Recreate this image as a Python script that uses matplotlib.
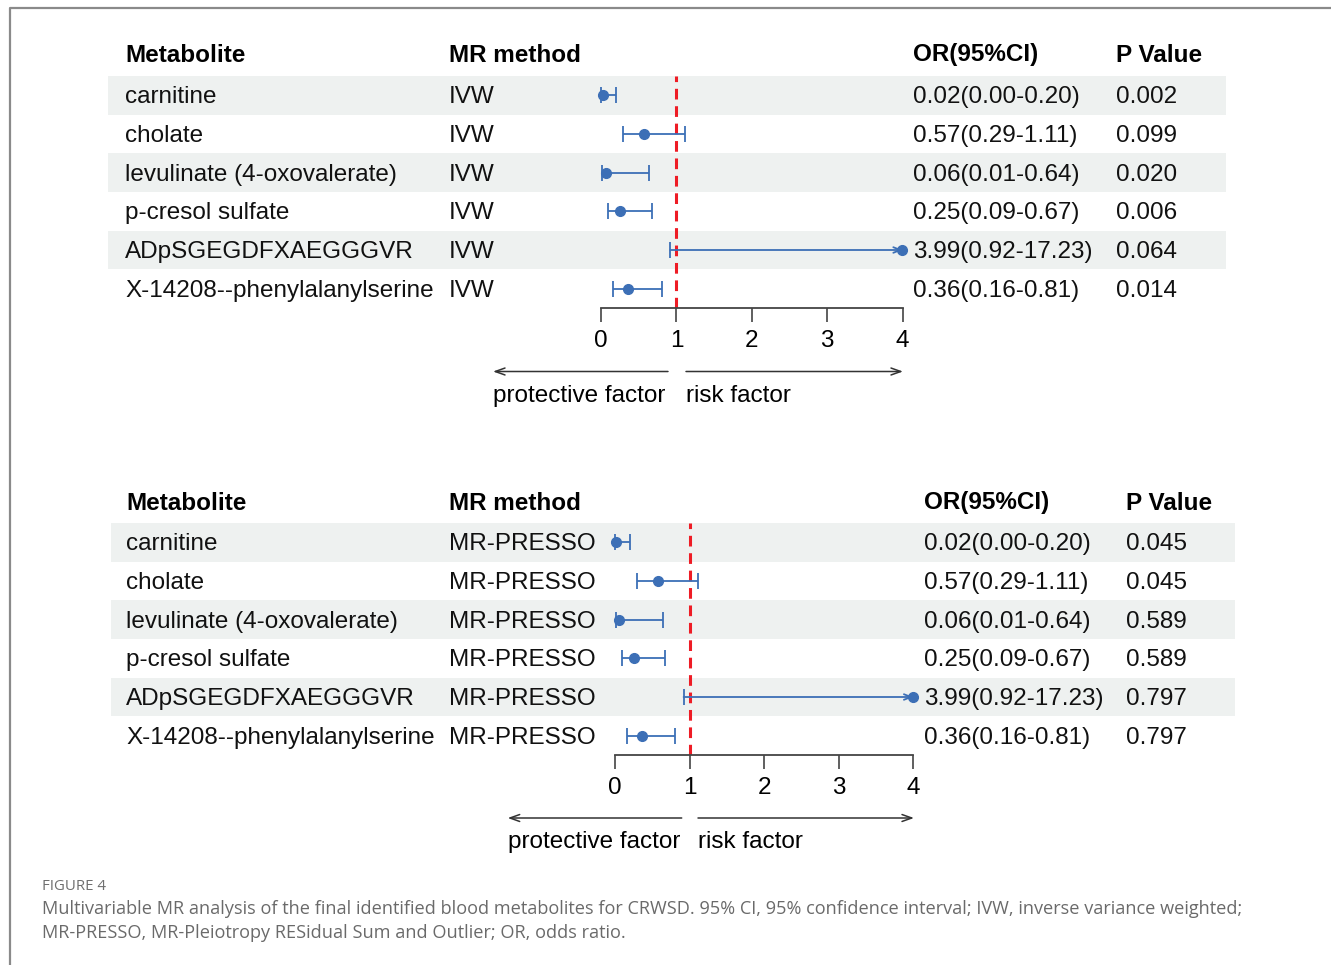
import matplotlib
matplotlib.use("Agg")
import matplotlib.pyplot as plt
import numpy as np

# ---------------- data ----------------
metabolites = ['carnitine', 'cholate', 'levulinate (4-oxovalerate)', 'p-cresol sulfate',
               'ADpSGEGDFXAEGGGVR', 'X-14208--phenylalanylserine']
or_vals = [0.02, 0.57, 0.06, 0.25, 3.99, 0.36]
ci_low = [0.00, 0.29, 0.01, 0.09, 0.92, 0.16]
ci_high = [0.20, 1.11, 0.64, 0.67, 17.23, 0.81]
p_ivw = ['0.002', '0.099', '0.020', '0.006', '0.064', '0.014']
p_presso = ['0.045', '0.045', '0.589', '0.589', '0.797', '0.797']
methods = ['IVW', 'MR-PRESSO']
headers = ['Metabolite', 'MR method', 'OR(95%CI)', 'P Value']
xticks = [0, 1, 2, 3, 4]
caption_title = 'FIGURE 4'
caption_lines = ['Multivariable MR analysis of the final identified blood metabolites for CRWSD. 95% CI, 95% confidence interval; IVW, inverse variance weighted;',
                 'MR-PRESSO, MR-Pleiotropy RESidual Sum and Outlier; OR, odds ratio.']

W, H = 1331, 965
FONT = 'Liberation Sans'
FS = 17.5
BLUE = '#3C6FB6'
BAND = '#EEF1F0'
DY = 2  # vertical text offset in px

fig = plt.figure(figsize=(W / 100, H / 100), dpi=100)
bg = fig.add_axes([0, 0, 1, 1])
bg.set_xlim(0, W)
bg.set_ylim(H, 0)
bg.axis('off')

# frame
bg.plot([10, 10, W], [H, 8, 8], color='#8a8a8a', lw=1.6, solid_capstyle='butt')

panels = [
    dict(method=methods[0], pvals=p_ivw, header_y=53, band_x=(108, 1226),
         cols=(125, 449, 913, 1116), ax_x=(601, 902.7), ax_y=(76, 308),
         arr_y=371.5, left_arr=(668, 493), right_arr=(686, 903), lab_y=394),
    dict(method=methods[1], pvals=p_presso, header_y=501, band_x=(111, 1235),
         cols=(126, 449, 924, 1126), ax_x=(615, 913.3), ax_y=(523, 755),
         arr_y=818, left_arr=(681.7, 507.7), right_arr=(698, 914), lab_y=840),
]

n = len(metabolites)
for p in panels:
    top, bot = p['ax_y']
    pitch = (bot - top) / n
    # header
    for c, h in zip(p['cols'], headers):
        bg.text(c, p['header_y'] + DY, h, fontsize=FS, fontweight='bold', family=FONT,
                va='center', ha='left', color='black')
    # rows
    for i in range(n):
        yc = top + pitch * (i + 0.5) + DY
        if i % 2 == 0:
            bg.fill_between([p['band_x'][0], p['band_x'][1]], top + pitch * i,
                            top + pitch * (i + 1), color=BAND, lw=0, zorder=0)
        ortxt = f"{or_vals[i]:.2f}({ci_low[i]:.2f}-{ci_high[i]:.2f})"
        for c, t in zip(p['cols'], [metabolites[i], p['method'], ortxt, p['pvals'][i]]):
            bg.text(c, yc, t, fontsize=FS, family=FONT, va='center', ha='left',
                    color='#111111')
    # direction arrows
    y = p['arr_y']
    for (x0, x1) in [p['left_arr'], p['right_arr']]:
        bg.annotate('', xy=(x1, y), xytext=(x0, y),
                    arrowprops=dict(arrowstyle='->,head_length=0.7,head_width=0.25',
                                    color='#333333', lw=1.1, shrinkA=0, shrinkB=0))
    bg.text(p['left_arr'][1], p['lab_y'] + DY, 'protective factor', fontsize=FS, family=FONT,
            va='center', ha='left')
    bg.text(p['right_arr'][0], p['lab_y'] + DY, 'risk factor', fontsize=FS, family=FONT,
            va='center', ha='left')

    # forest axes
    x0, x1 = p['ax_x']
    ax = fig.add_axes([x0 / W, 1 - bot / H, (x1 - x0) / W, (bot - top) / H])
    ax.patch.set_alpha(0)
    ax.set_xlim(xticks[0], xticks[-1])
    ax.set_ylim(n - 0.5, -0.5)
    for s in ['top', 'right', 'left']:
        ax.spines[s].set_visible(False)
    ax.spines['bottom'].set_color('#444444')
    ax.spines['bottom'].set_linewidth(1.3)
    ax.set_yticks([])
    ax.set_xticks(xticks)
    ax.set_xticklabels([str(t) for t in xticks], fontsize=FS, family=FONT)
    ax.tick_params(axis='x', direction='out', length=10, width=1.2, color='#444444', pad=5.5)
    ax.axvline(1, color='#EE1C25', lw=2.2, ls=(0, (3.5, 2.2)), zorder=1)
    for i in range(n):
        lo, hi, est = ci_low[i], ci_high[i], or_vals[i]
        if hi <= xticks[-1]:
            ax.errorbar(est, i, xerr=[[est - lo], [hi - est]], fmt='o', color=BLUE,
                        ms=7, elinewidth=1.3, capsize=6, capthick=1.3, clip_on=False, zorder=3)
        else:
            ax.annotate('', xy=(xticks[-1], i), xytext=(lo, i),
                        arrowprops=dict(arrowstyle='->,head_length=0.5,head_width=0.2',
                                        color=BLUE, lw=1.3, shrinkA=0, shrinkB=0),
                        annotation_clip=False, zorder=3)
            ax.plot([lo], [i], marker='|', ms=12, mew=1.3, color=BLUE, clip_on=False)
            ax.plot([min(est, xticks[-1])], [i], 'o', ms=7, color=BLUE, clip_on=False, zorder=4)

# caption
bg.text(42, 886, caption_title, fontsize=10.8, family='Open Sans', color='#6f6f6f',
        va='center', ha='left')
for k, line in enumerate(caption_lines):
    bg.text(42, 909 + 24 * k, line, fontsize=13.05, family='Open Sans', color='#6a6a6a',
            va='center', ha='left')

fig.savefig('out.png', dpi=100)
